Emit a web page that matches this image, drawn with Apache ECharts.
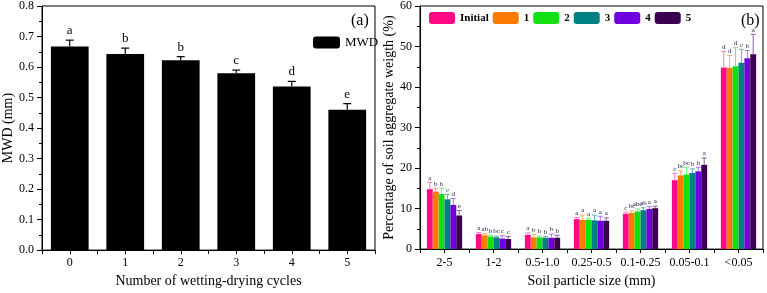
<!DOCTYPE html>
<html>
<head>
<meta charset="utf-8">
<script src="https://cdn.jsdelivr.net/npm/echarts@6/dist/echarts.min.js"></script>
<style>
  html, body { margin: 0; padding: 0; background: #fff; }
  #chart { width: 767px; height: 293px; }
</style>
</head>
<body>
<div id="chart"></div>
<script>
// panel (a)
var cycles = ['0', '1', '2', '3', '4', '5'];
var mwd = [0.667, 0.643, 0.622, 0.580, 0.536, 0.460];
var mwdErr = [0.021, 0.019, 0.012, 0.010, 0.017, 0.020];
var mwdLetters = ['a', 'b', 'b', 'c', 'd', 'e'];

// panel (b)
var sizes = ['2-5', '1-2', '0.5-1.0', '0.25-0.5', '0.1-0.25', '0.05-0.1', '<0.05'];
var groupNames = ['Initial', '1', '2', '3', '4', '5'];
var sInitial = [14.8, 3.7, 3.5, 7.4, 8.7, 17.0, 44.8];
var s1 = [14.2, 3.4, 2.9, 7.2, 8.9, 18.2, 44.7];
var s2 = [13.6, 3.1, 2.9, 7.2, 9.3, 18.4, 45.1];
var s3 = [12.3, 2.9, 2.8, 7.1, 9.6, 18.8, 46.0];
var s4 = [10.9, 2.6, 2.8, 7.0, 9.9, 19.2, 47.1];
var s5 = [8.3, 2.5, 2.8, 7.0, 10.1, 20.8, 48.1];
var eInitial = [1.7, 0.4, 0.5, 0.4, 0.4, 1.7, 4.0];
var e1 = [0.8, 0.4, 0.7, 1.2, 0.5, 1.1, 3.1];
var e2 = [1.4, 0.3, 0.3, 0.4, 0.6, 1.8, 4.6];
var e3 = [1.2, 0.3, 0.3, 1.3, 0.6, 1.0, 3.3];
var e4 = [1.6, 0.7, 0.9, 1.1, 0.6, 1.0, 1.9];
var e5 = [1.2, 0.6, 0.6, 0.7, 0.5, 1.7, 4.9];
var lInitial = ['a', 'a', 'a', 'a', 'c', 'c', 'd'];
var l1 = ['b', 'ab', 'b', 'a', 'bc', 'bc', 'd'];
var l2 = ['b', 'b', 'b', 'a', 'abc', 'bc', 'd'];
var l3 = ['c', 'bc', 'b', 'a', 'ab', 'b', 'c'];
var l4 = ['d', 'c', 'b', 'a', 'a', 'b', 'b'];
var l5 = ['e', 'c', 'b', 'a', 'a', 'a', 'a'];

var seriesVals = [sInitial, s1, s2, s3, s4, s5];
var seriesErr = [eInitial, e1, e2, e3, e4, e5];
var seriesLet = [lInitial, l1, l2, l3, l4, l5];
var colors = ['#ff0a86', '#ff7a00', '#12e012', '#008080', '#7000e0', '#3c0050'];
var errColors = ['#ff7ab8', '#ffae60', '#70f070', '#60b0b0', '#a870ff', '#8a60a0'];

var font = '"Liberation Serif", "DejaVu Serif", serif';
var chart = echarts.init(document.getElementById('chart'));

function minorTicksAxis(n, gridIndex) {
  var d = [];
  for (var i = 0; i < n * 2 + 1; i++) d.push(i);
  return {
    type: 'category', gridIndex: gridIndex, data: d, boundaryGap: false,
    position: 'bottom',
    axisLine: { show: false }, axisLabel: { show: false },
    axisTick: { show: true, length: 4, interval: 0, lineStyle: { color: '#000' } }
  };
}

var series = [];
series.push({
  name: 'MWD', type: 'bar', xAxisIndex: 0, yAxisIndex: 0,
  data: mwd, barWidth: '68%',
  itemStyle: { color: '#000' }
});
series.push({
  type: 'custom', xAxisIndex: 0, yAxisIndex: 0, z: 5,
  data: mwd.map(function (v, i) { return [i, v, v + mwdErr[i]]; }),
  renderItem: function (params, api) {
    var i = params.dataIndex;
    var p0 = api.coord([api.value(0), api.value(1)]);
    var p1 = api.coord([api.value(0), api.value(2)]);
    return {
      type: 'group', children: [
        { type: 'line', shape: { x1: p0[0], y1: p0[1], x2: p1[0], y2: p1[1] }, style: { stroke: '#000', lineWidth: 1.2 } },
        { type: 'line', shape: { x1: p1[0] - 4, y1: p1[1], x2: p1[0] + 4, y2: p1[1] }, style: { stroke: '#000', lineWidth: 1.2 } },
        { type: 'text', x: p1[0], y: p1[1] - 3, style: { text: mwdLetters[i], fill: '#000', font: '13px ' + font, align: 'center', verticalAlign: 'bottom' } }
      ]
    };
  }
});

groupNames.forEach(function (name, k) {
  series.push({
    name: name, type: 'bar', xAxisIndex: 1, yAxisIndex: 1,
    data: seriesVals[k], barGap: 0, barCategoryGap: '28%',
    itemStyle: { color: colors[k] }
  });
});
groupNames.forEach(function (name, k) {
  series.push({
    type: 'custom', xAxisIndex: 1, yAxisIndex: 1, z: 5,
    data: seriesVals[k].map(function (v, i) { return [i, v, v + seriesErr[k][i]]; }),
    renderItem: function (params, api) {
      var i = params.dataIndex;
      var band = api.size([1, 0])[0];
      var bw = band * 0.72 / 6;
      var dx = (k - 2.5) * bw;
      var p0 = api.coord([api.value(0), api.value(1)]);
      var p1 = api.coord([api.value(0), api.value(2)]);
      var x = p0[0] + dx;
      return {
        type: 'group', children: [
          { type: 'line', shape: { x1: x, y1: p0[1], x2: x, y2: p1[1] }, style: { stroke: errColors[k], lineWidth: 1 } },
          { type: 'line', shape: { x1: x - 2.5, y1: p1[1], x2: x + 2.5, y2: p1[1] }, style: { stroke: errColors[k], lineWidth: 1 } },
          { type: 'text', x: x, y: p1[1] - 1, style: { text: seriesLet[k][i], fill: '#1a1a40', font: '7px ' + font, align: 'center', verticalAlign: 'bottom' } }
        ]
      };
    }
  });
});

var yAxisCommon = {
  type: 'value',
  axisLine: { show: true, lineStyle: { color: '#000' } },
  axisTick: { show: true, length: 5, lineStyle: { color: '#000' } },
  minorTick: { show: true, splitNumber: 2, length: 3, lineStyle: { color: '#000' } },
  splitLine: { show: false },
  nameLocation: 'middle',
  nameTextStyle: { fontFamily: font, fontSize: 14, color: '#000' },
  axisLabel: { fontFamily: font, fontSize: 12, color: '#000' }
};

var option = {
  animation: false,
  textStyle: { fontFamily: font },
  grid: [
    { left: 40, top: 6, right: 392, bottom: 34, show: true, borderColor: '#000', borderWidth: 1 },
    { left: 420, top: 6, right: 4, bottom: 35, show: true, borderColor: '#000', borderWidth: 1 }
  ],
  legend: [
    {
      data: ['MWD'], left: 313, top: 36, padding: 0, itemWidth: 27, itemHeight: 12, itemGap: 5,
      textStyle: { fontFamily: font, fontSize: 13, color: '#000' },
      itemStyle: { borderWidth: 0 }
    },
    {
      data: groupNames, left: 429, top: 12, padding: 0, itemWidth: 26, itemHeight: 12, itemGap: 4,
      textStyle: { fontFamily: font, fontSize: 11, fontWeight: 'bold', color: '#000' }
    }
  ],
  xAxis: [
    {
      type: 'category', gridIndex: 0, data: cycles,
      name: 'Number of wetting-drying cycles', nameLocation: 'middle', nameGap: 19,
      nameTextStyle: { fontFamily: font, fontSize: 14, color: '#000' },
      axisLine: { lineStyle: { color: '#000' } },
      axisTick: { show: false },
      axisLabel: { fontFamily: font, fontSize: 12, color: '#000', margin: 7 }
    },
    {
      type: 'category', gridIndex: 1, data: sizes,
      name: 'Soil particle size (mm)', nameLocation: 'middle', nameGap: 20,
      nameTextStyle: { fontFamily: font, fontSize: 14, color: '#000' },
      axisLine: { lineStyle: { color: '#000' } },
      axisTick: { show: false },
      axisLabel: { fontFamily: font, fontSize: 12, color: '#000', margin: 8, interval: 0 }
    },
    minorTicksAxis(6, 0),
    minorTicksAxis(7, 1)
  ],
  yAxis: [
    Object.assign({}, yAxisCommon, {
      gridIndex: 0, min: 0, max: 0.8, interval: 0.1,
      name: 'MWD (mm)', nameGap: 27,
      axisLabel: { fontFamily: font, fontSize: 12, color: '#000', formatter: function (v) { return v.toFixed(1); } }
    }),
    Object.assign({}, yAxisCommon, {
      gridIndex: 1, min: 0, max: 60, interval: 10,
      name: 'Percentage of soil aggregate weigth (%)', nameGap: 22
    })
  ],
  graphic: [
    { type: 'text', left: 351, top: 13, style: { text: '(a)', font: '16px ' + font, fill: '#000' } },
    { type: 'text', left: 741, top: 13, style: { text: '(b)', font: '16px ' + font, fill: '#000' } }
  ],
  series: series
};
chart.setOption(option);
</script>
</body>
</html>
